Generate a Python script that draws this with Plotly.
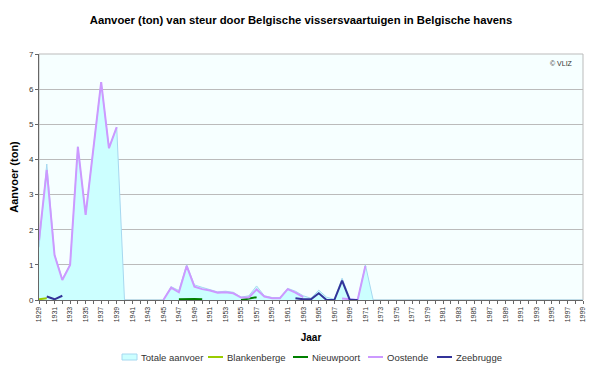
import plotly.graph_objects as go

years = list(range(1929, 2000))
N = None

totale = [1.5, 3.87, 1.3, 0.6, 1.0, 4.36, 2.42, 4.3, 6.2, 4.32, 4.92,
          0, 0, 0, 0.02, 0, 0, 0.38, 0.27, 1.0, 0.43, 0.36, 0.3, 0.23, 0.25, 0.22,
          0.08, 0.12, 0.4, 0.12, 0.07, 0.07, 0.33, 0.25, 0.12, 0.05, 0.28, 0.08,
          0.02, 0.62, 0.05, 0.0, 1.0] + [0] * 28

blankenberge = [0.02, 0.05] + [N] * 69

nieuwpoort = [N] * 18 + [0.02, 0.03, 0.03, 0.02, N, N, N, N, 0.0, 0.03, 0.08] + [N] * 42

oostende = [1.7, 3.7, 1.28, 0.57, 1.0, 4.36, 2.42, 4.3, 6.2, 4.32, 4.92,
            N, N, N, N, N, 0.0, 0.35, 0.22, 0.97, 0.38, 0.31, 0.27, 0.21, 0.22, 0.19,
            0.07, 0.07, 0.3, 0.1, 0.05, 0.05, 0.31, 0.21, 0.08, N, N, N,
            N, 0.04, 0.03, 0.0, 0.97] + [N] * 28

zeebrugge = [N, 0.1, 0.02, 0.12] + [N] * 29 + [0.05, 0.02, 0.02, 0.19, 0.0, 0.0, 0.55, 0.0, 0.0] + [N] * 29

series_names = ["Totale aanvoer", "Blankenberge", "Nieuwpoort", "Oostende", "Zeebrugge"]
series_colors = ["#CCFFFF", "#99CC00", "#008000", "#CC99FF", "#333399"]

fig = go.Figure()
fig.add_trace(go.Scatter(x=years, y=totale, name=series_names[0], mode="lines",
                         fill="tozeroy", fillcolor=series_colors[0],
                         line=dict(color="#A6D8F0", width=1), showlegend=False))
for name, color, vals in zip(series_names[1:], series_colors[1:],
                             [blankenberge, nieuwpoort, oostende, zeebrugge]):
    fig.add_trace(go.Scatter(x=years, y=vals, name=name, mode="lines",
                             line=dict(color=color, width=2), showlegend=False))

# compact legend (Excel style) drawn in paper coordinates below the plot
plot_left, plot_w, plot_bottom, plot_h = 39, 544, 300, 246
def px(xa):
    return (xa - plot_left) / plot_w
leg_y = (plot_bottom - 357) / plot_h
sym_x = [122, 208, 293, 368, 437]
shapes = [dict(type="rect", xref="paper", yref="paper", x0=0, x1=1, y0=0, y1=1,
               line=dict(color="#BBBBBB", width=1), layer="below")]
annotations = [dict(text="© VLIZ", xref="paper", yref="paper", x=0.985, y=0.985,
                    xanchor="right", yanchor="top", showarrow=False,
                    font=dict(size=7, color="#333333"))]
for i, (name, color, sx) in enumerate(zip(series_names, series_colors, sym_x)):
    if i == 0:
        shapes.append(dict(type="rect", xref="paper", yref="paper",
                           x0=px(sx), x1=px(sx + 15),
                           y0=leg_y - 3 / plot_h, y1=leg_y + 3 / plot_h,
                           fillcolor=color, line=dict(color="#A6D8F0", width=1)))
        tx = sx + 17
    else:
        shapes.append(dict(type="line", xref="paper", yref="paper",
                           x0=px(sx), x1=px(sx + 15), y0=leg_y, y1=leg_y,
                           line=dict(color=color, width=2)))
        tx = sx + 17
    annotations.append(dict(text=name, xref="paper", yref="paper", x=px(tx), y=leg_y,
                            xanchor="left", yanchor="middle", showarrow=False,
                            font=dict(size=9.5, color="#333333")))

# page body has an 8px margin: figure is drawn 592x360 starting at (8, 8)
fig.update_layout(
    width=592, height=360,
    margin=dict(l=31, r=17, t=46, b=68, autoexpand=False),
    paper_bgcolor="white",
    plot_bgcolor="#F6FFFF",
    font=dict(family="Liberation Sans, Arial, sans-serif", color="black"),
    title=dict(text="<b>Aanvoer (ton) van steur door Belgische vissersvaartuigen in Belgische havens</b>",
               x=0.495, xanchor="center", xref="container", y=0.967, yref="container", yanchor="middle",
               font=dict(size=11.3)),
    showlegend=False,
    xaxis=dict(range=[1929, 1999], tickmode="array",
               tickvals=list(range(1929, 2000, 2)),
               ticktext=[str(y) for y in range(1929, 2000, 2)],
               tickangle=-90, tickfont=dict(size=7, color="#333333"),
               ticks="outside", ticklen=3, tickcolor="#666666",
               minor=dict(tickvals=list(range(1930, 2000, 2)), ticks="outside", ticklen=3, tickcolor="#666666"),
               showline=True, linecolor="#666666", linewidth=1, mirror=False,
               showgrid=False, zeroline=False, automargin=False,
               title=dict(text="<b>Jaar</b>", font=dict(size=10), standoff=12)),
    yaxis=dict(range=[0, 7], dtick=1, tickfont=dict(size=8, color="#333333"),
               ticks="outside", ticklen=3, tickcolor="#666666",
               showline=True, linecolor="#666666", linewidth=1,
               showgrid=True, gridcolor="#BBBBBB", gridwidth=1, zeroline=False,
               automargin=False,
               title=dict(text="<b>Aanvoer (ton)</b>", font=dict(size=11), standoff=13)),
    shapes=shapes,
    annotations=annotations,
)

fig.write_html("out.html")
